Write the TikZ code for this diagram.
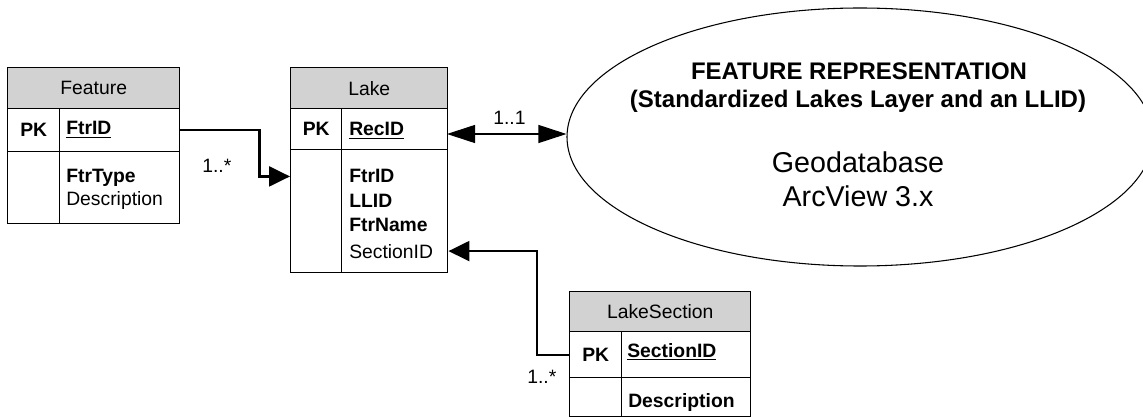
\documentclass[tikz,border=0pt]{standalone}
\usepackage{fontspec}
\setmainfont{Liberation Sans}
\usetikzlibrary{arrows.meta,shapes.geometric}
\newcommand{\tabfont}{\fontsize{14.5pt}{17pt}\selectfont}

\begin{document}
\begin{tikzpicture}[x=0.75pt,y=-0.75pt,font=\tabfont,
  cell/.style={draw,line width=1.1pt,anchor=north west,inner sep=0pt},
  head/.style={cell,fill=gray!35},
  field/.style={anchor=base west,inner sep=0pt},
  card/.style={anchor=base west,inner sep=0pt},
  link/.style={-{Triangle[length=15.75pt,width=15pt]},line width=1.7pt},
  dlink/.style={{Triangle[length=21pt,width=13.5pt]}-{Triangle[length=21pt,width=13.5pt]},line width=0.8pt}]
\useasboundingbox (0,0) rectangle (1143,417);
% Feature
\node[head,minimum width=129pt,minimum height=30.75pt] (feat-head) at (7,67) {Feature};
\node[cell,minimum width=39pt,minimum height=32.25pt] (feat-pk) at (7,108) {\textbf{PK}};
\node[cell,minimum width=90pt,minimum height=32.25pt] (feat-key) at (59,108) {};
\node[cell,minimum width=39pt,minimum height=54pt] (feat-gap) at (7,151) {};
\node[cell,minimum width=90pt,minimum height=54pt] (feat-body) at (59,151) {};
\node[field] (feat-id) at (66,135) {\textbf{\underline{FtrID}}};
\node[field] (feat-type) at (66,183) {\textbf{FtrType}};
\node[field] (feat-desc) at (66,206) {Description};
% Lake
\node[head,minimum width=117.75pt,minimum height=30.75pt] (lake-head) at (290,67) {Lake};
\node[cell,minimum width=38.25pt,minimum height=30.75pt] (lake-pk) at (290,108) {\textbf{PK}};
\node[cell,minimum width=79.5pt,minimum height=30.75pt] (lake-key) at (341,108) {};
\node[cell,minimum width=38.25pt,minimum height=92.25pt] (lake-gap) at (290,149) {};
\node[cell,minimum width=79.5pt,minimum height=92.25pt] (lake-body) at (341,149) {};
\node[field] (lake-id) at (349,136) {\textbf{\underline{RecID}}};
\node[field] (lake-ftrid) at (349,183) {\textbf{FtrID}};
\node[field] (lake-llid) at (349,208) {\textbf{LLID}};
\node[field] (lake-name) at (349,232) {\textbf{FtrName}};
\node[field] (lake-secid) at (349,258) {SectionID};
% LakeSection
\node[head,minimum width=135.75pt,minimum height=30pt] (sec-head) at (569,291) {LakeSection};
\node[cell,minimum width=39pt,minimum height=34.5pt] (sec-pk) at (569,331) {\textbf{PK}};
\node[cell,minimum width=96.75pt,minimum height=34.5pt] (sec-key) at (621,331) {};
\node[cell,minimum width=39pt,minimum height=29.25pt] (sec-gap) at (569,377) {};
\node[cell,minimum width=96.75pt,minimum height=29.25pt] (sec-body) at (621,377) {};
\node[field] (sec-id) at (627,357) {\textbf{\underline{SectionID}}};
\node[field] (sec-desc) at (628,407) {\textbf{Description}};
% representation
\node[ellipse,draw,line width=0.8pt,minimum width=439.5pt,minimum height=193.5pt,inner sep=0pt] (repr) at (860,137) {};
\node[anchor=base,inner sep=0pt,font=\fontsize{18pt}{21pt}\selectfont\bfseries] (repr-title) at (859,80) {FEATURE REPRESENTATION};
\node[anchor=base,inner sep=0pt,font=\fontsize{18pt}{21pt}\selectfont\bfseries] (repr-sub) at (858,108) {(Standardized Lakes Layer and an LLID)};
\node[anchor=base,inner sep=0pt,font=\fontsize{21.5pt}{25pt}\selectfont] (repr-gdb) at (858,173) {Geodatabase};
\node[anchor=base,inner sep=0pt,font=\fontsize{21.5pt}{25pt}\selectfont] (repr-av) at (858,207) {ArcView 3.x};
% links
\coordinate (rec-end) at (447,134);
\draw[link] (feat-key.east) -- ++(79,0) |- (lake-gap.west |- lake-ftrid);
\draw[dlink] (rec-end) -- (rec-end -| repr.west);
\draw[link] (sec-pk.west) -- ++(-32,0) |- (lake-body.east |- lake-secid);
\node[card] (card-feat) at (202,173) {1..*};
\node[card] (card-repr) at (493,125) {1..1};
\node[card] (card-sec) at (527,383) {1..*};
\end{tikzpicture}
\end{document}
